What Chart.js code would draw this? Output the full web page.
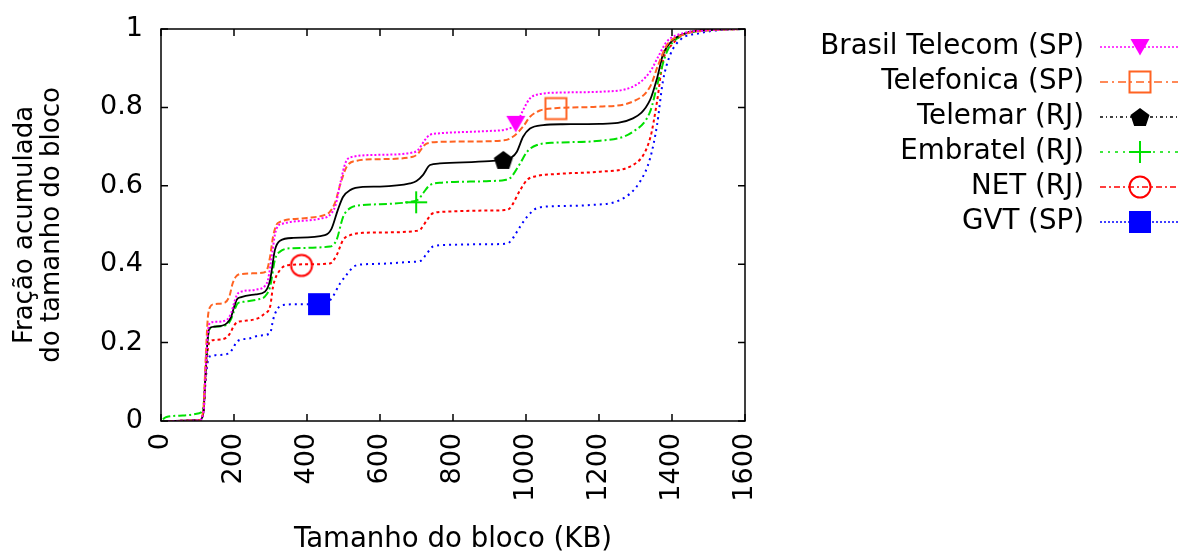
<!DOCTYPE html>
<html>
<head>
<meta charset="utf-8">
<script src="https://cdn.jsdelivr.net/npm/chart.js@4/dist/chart.umd.min.js"></script>
<style>
  body { margin: 0; background: #fff; }
  canvas { display: block; }
</style>
</head>
<body>
<canvas id="chart" width="1179" height="554"></canvas>
<script>
// block size (KB) vs cumulative fraction
const brasilTelecom = [[20,0],[105,0.002],[116,0.02],[122,0.12],[128,0.22],[134,0.25],[150,0.253],[180,0.258],[192,0.275],[200,0.3],[208,0.322],[220,0.33],[260,0.335],[285,0.345],[293,0.36],[305,0.43],[312,0.475],[320,0.497],[335,0.504],[440,0.517],[462,0.525],[478,0.55],[492,0.61],[506,0.66],[525,0.674],[600,0.679],[690,0.685],[704,0.691],[723,0.717],[737,0.73],[764,0.734],[900,0.74],[950,0.745],[975,0.76],[992,0.793],[1011,0.823],[1038,0.834],[1100,0.838],[1203,0.84],[1293,0.853],[1340,0.891],[1362,0.929],[1386,0.968],[1430,0.989],[1504,0.997],[1600,1]]
const telefonica = [[20,0],[105,0.002],[116,0.03],[122,0.15],[128,0.26],[134,0.29],[145,0.298],[175,0.302],[188,0.32],[196,0.35],[205,0.368],[220,0.375],[277,0.378],[290,0.385],[299,0.42],[307,0.47],[316,0.5],[326,0.508],[400,0.518],[449,0.526],[463,0.534],[478,0.56],[490,0.6],[509,0.649],[537,0.664],[600,0.668],[690,0.674],[704,0.682],[723,0.705],[737,0.71],[764,0.712],[850,0.713],[940,0.716],[964,0.725],[992,0.751],[1011,0.776],[1038,0.792],[1079,0.798],[1203,0.802],[1293,0.815],[1340,0.853],[1362,0.908],[1386,0.959],[1430,0.985],[1504,0.997],[1600,1]]
const telemar = [[20,0],[105,0.002],[116,0.02],[122,0.12],[128,0.21],[134,0.238],[150,0.241],[180,0.249],[192,0.265],[200,0.29],[208,0.31],[220,0.316],[260,0.323],[285,0.33],[299,0.36],[312,0.436],[326,0.46],[362,0.467],[449,0.474],[467,0.49],[485,0.54],[499,0.572],[518,0.589],[553,0.597],[600,0.598],[682,0.606],[700,0.612],[718,0.628],[737,0.653],[764,0.657],[900,0.663],[937,0.666],[960,0.672],[975,0.687],[992,0.725],[1011,0.746],[1047,0.755],[1100,0.757],[1203,0.758],[1293,0.772],[1340,0.819],[1359,0.874],[1375,0.934],[1403,0.972],[1440,0.99],[1504,0.998],[1600,1]]
const embratel = [[5,0.005],[15,0.01],[60,0.014],[105,0.02],[116,0.035],[122,0.12],[128,0.21],[134,0.235],[150,0.241],[180,0.245],[192,0.26],[200,0.28],[210,0.3],[225,0.304],[265,0.31],[285,0.318],[299,0.343],[312,0.411],[326,0.432],[362,0.441],[463,0.445],[481,0.462],[499,0.521],[518,0.543],[553,0.551],[600,0.553],[682,0.559],[705,0.565],[718,0.581],[737,0.602],[770,0.608],[900,0.612],[942,0.615],[956,0.619],[984,0.657],[1003,0.687],[1030,0.704],[1080,0.71],[1203,0.715],[1293,0.738],[1340,0.789],[1362,0.866],[1386,0.942],[1420,0.98],[1480,0.995],[1600,1]]
const net = [[20,0],[105,0.002],[116,0.02],[122,0.11],[128,0.18],[134,0.203],[150,0.207],[178,0.212],[190,0.225],[198,0.24],[208,0.252],[225,0.255],[265,0.262],[285,0.275],[299,0.292],[307,0.343],[326,0.385],[353,0.398],[420,0.4],[463,0.402],[481,0.423],[499,0.462],[518,0.474],[553,0.48],[600,0.481],[700,0.485],[712,0.49],[729,0.513],[745,0.53],[780,0.534],[900,0.537],[942,0.538],[956,0.543],[984,0.589],[1003,0.615],[1030,0.625],[1080,0.63],[1203,0.636],[1293,0.653],[1340,0.721],[1359,0.815],[1375,0.917],[1403,0.963],[1440,0.99],[1500,0.998],[1600,1]]
const gvt = [[20,0],[105,0.002],[116,0.02],[122,0.1],[128,0.15],[134,0.165],[150,0.168],[185,0.172],[197,0.185],[206,0.2],[216,0.207],[240,0.21],[270,0.218],[299,0.224],[307,0.258],[317,0.283],[334,0.296],[380,0.298],[433,0.299],[465,0.31],[490,0.35],[510,0.375],[530,0.395],[560,0.4],[600,0.401],[690,0.406],[710,0.408],[729,0.428],[745,0.445],[780,0.449],[900,0.451],[942,0.452],[956,0.457],[984,0.496],[1003,0.521],[1030,0.543],[1080,0.548],[1175,0.551],[1258,0.564],[1312,0.61],[1340,0.67],[1359,0.755],[1375,0.866],[1395,0.934],[1422,0.972],[1480,0.99],[1540,0.998],[1600,1]]

// one marker per curve, where gnuplot put it
const markerPoints = [[972,0.758],[1082,0.797],[938,0.666],[699,0.558],[385,0.397],[433,0.298]]

const seriesNames = ['Brasil Telecom (SP)', 'Telefonica (SP)', 'Telemar (RJ)', 'Embratel (RJ)', 'NET (RJ)', 'GVT (SP)']
const seriesData = [brasilTelecom, telefonica, telemar, embratel, net, gvt]
const colors = ['#ff00ff', '#ff6322', '#000000', '#00e000', '#ff0000', '#0000ff']
const plotDash = [[2,2], [6,3], [], [8,3,2,3], [3,3], [2,4]]
const legendDash = [[2,2], [8,4,2,4], [3,3,1,3], [3,5,2,5], [6,3,2,3], [2,2]]
const shapes = ['triangleDown', 'openSquare', 'pentagon', 'plus', 'openCircle', 'square']

const FONT = '"DejaVu Sans", Verdana, sans-serif'

function markerCanvas(shape, color) {
  const c = document.createElement('canvas')
  c.width = 28
  c.height = 28
  const g = c.getContext('2d')
  g.translate(14, 14)
  g.strokeStyle = color
  g.fillStyle = color
  g.lineWidth = 2
  g.beginPath()
  if (shape === 'triangleDown') {
    g.moveTo(-9.5, -8); g.lineTo(9.5, -8); g.lineTo(0, 8.5); g.closePath(); g.fill()
  } else if (shape === 'openSquare') {
    g.rect(-10.5, -10.5, 21, 21); g.stroke()
  } else if (shape === 'pentagon') {
    for (let i = 0; i < 5; i++) {
      const a = -Math.PI / 2 + i * 2 * Math.PI / 5
      const px = Math.cos(a) * 10, py = Math.sin(a) * 10 + 1
      if (i === 0) g.moveTo(px, py); else g.lineTo(px, py)
    }
    g.closePath(); g.fill()
  } else if (shape === 'plus') {
    g.moveTo(-11, 0); g.lineTo(11, 0); g.moveTo(0, -11); g.lineTo(0, 11); g.stroke()
  } else if (shape === 'openCircle') {
    g.arc(0, 0, 10.5, 0, Math.PI * 2); g.stroke()
  } else {
    g.rect(-11, -11, 22, 22); g.fill()
  }
  return c
}

const markers = shapes.map((s, i) => markerCanvas(s, colors[i]))

const datasets = []
seriesData.forEach((d, i) => {
  datasets.push({
    label: seriesNames[i],
    data: d.map(p => ({ x: p[0], y: p[1] })),
    borderColor: colors[i],
    borderWidth: i === 2 ? 1.8 : 2,
    borderDash: plotDash[i],
    pointRadius: 0,
    fill: false,
    cubicInterpolationMode: 'monotone'
  })
})
markerPoints.forEach((p, i) => {
  datasets.push({
    label: seriesNames[i] + ' marker',
    data: [{ x: p[0], y: p[1] }],
    showLine: false,
    pointStyle: markers[i],
    pointRadius: 10,
    borderColor: colors[i],
    backgroundColor: colors[i]
  })
})

// gnuplot-like frame with inward ticks on all four sides
const framePlugin = {
  id: 'frame',
  afterDatasetsDraw(chart) {
    const { ctx, chartArea: a, scales } = chart
    ctx.save()
    ctx.strokeStyle = '#000'
    ctx.lineWidth = 1.5
    ctx.strokeRect(a.left, a.top, a.right - a.left, a.bottom - a.top)
    ctx.beginPath()
    scales.x.ticks.forEach(t => {
      const px = scales.x.getPixelForValue(t.value)
      ctx.moveTo(px, a.bottom); ctx.lineTo(px, a.bottom - 7)
      ctx.moveTo(px, a.top); ctx.lineTo(px, a.top + 7)
    })
    scales.y.ticks.forEach(t => {
      const py = scales.y.getPixelForValue(t.value)
      ctx.moveTo(a.left, py); ctx.lineTo(a.left + 7, py)
      ctx.moveTo(a.right, py); ctx.lineTo(a.right - 7, py)
    })
    ctx.stroke()
    ctx.restore()
  }
}

// legend on the right: text right-aligned, then line sample with marker
const legendPlugin = {
  id: 'sideLegend',
  afterDraw(chart) {
    const ctx = chart.ctx
    ctx.save()
    ctx.font = '27.7px ' + FONT
    ctx.fillStyle = '#000'
    ctx.textAlign = 'right'
    ctx.textBaseline = 'middle'
    seriesNames.forEach((name, i) => {
      const y = 47 + i * 35
      ctx.fillText(name, 1084, y)
      ctx.strokeStyle = colors[i]
      ctx.lineWidth = 1.5
      ctx.setLineDash(legendDash[i])
      ctx.beginPath()
      ctx.moveTo(1100, y)
      ctx.lineTo(1178, y)
      ctx.stroke()
      ctx.setLineDash([])
      const m = markers[i]
      ctx.drawImage(m, 1140 - m.width / 2, y - m.height / 2)
    })
    ctx.restore()
  }
}

Chart.defaults.font.family = FONT
Chart.defaults.font.size = 27
Chart.defaults.color = '#000'

new Chart(document.getElementById('chart'), {
  type: 'line',
  data: { datasets },
  options: {
    responsive: false,
    animation: false,
    devicePixelRatio: 1,
    layout: { padding: { left: 0, top: 29, right: 434, bottom: 0 } },
    plugins: { legend: { display: false }, tooltip: { enabled: false } },
    scales: {
      x: {
        type: 'linear',
        min: 0,
        max: 1600,
        ticks: { stepSize: 200, minRotation: 90, maxRotation: 90, padding: 12, autoSkip: false, callback: v => String(v) },
        grid: { display: false, drawTicks: false },
        border: { display: false },
        title: { display: true, text: 'Tamanho do bloco (KB)', font: { size: 27.6, lineHeight: 1.0 }, padding: { top: 0, bottom: 0 } },
        afterFit: s => { s.height = 133; s.paddingLeft = 0; s.paddingRight = 0 }
      },
      y: {
        min: 0,
        max: 1,
        ticks: { stepSize: 0.2, padding: 18, callback: v => String(+v.toFixed(1)) },
        grid: { display: false, drawTicks: false },
        border: { display: false },
        title: { display: true, text: ['Fração acumulada', 'do tamanho do bloco'], font: { size: 26, lineHeight: 1.04 }, padding: { top: 12, bottom: 0 } },
        afterFit: s => { s.width = 161; s.paddingTop = 0; s.paddingBottom = 0 }
      }
    }
  },
  plugins: [framePlugin, legendPlugin]
})
</script>
</body>
</html>
